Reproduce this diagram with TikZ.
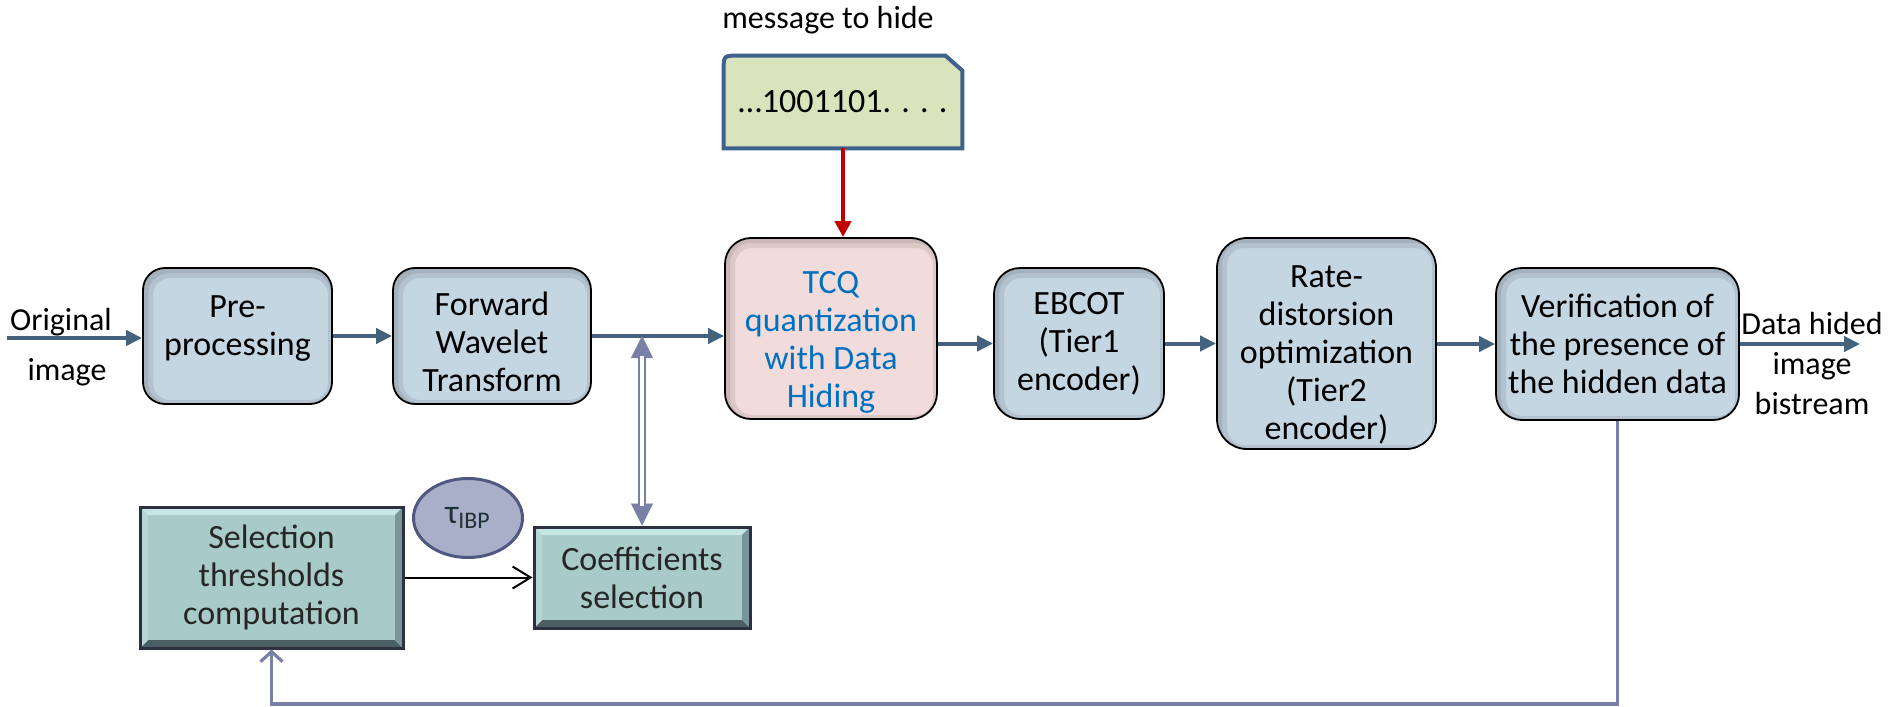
\documentclass[tikz,border=0pt]{standalone}
\usepackage{fontspec}
\setmainfont{Carlito}
\usetikzlibrary{arrows.meta,shapes.geometric,backgrounds}

\definecolor{stagefill}{RGB}{197,214,227}
\definecolor{hidefill}{RGB}{242,220,219}
\definecolor{hidetext}{RGB}{0,112,192}
\definecolor{flowcol}{RGB}{68,97,126}
\definecolor{injectcol}{RGB}{192,0,0}
\definecolor{msgfill}{RGB}{216,228,188}
\definecolor{msgdraw}{RGB}{63,97,142}
\definecolor{selfill}{RGB}{168,203,201}
\definecolor{seldraw}{RGB}{44,48,64}
\definecolor{seltext}{RGB}{38,38,38}
\definecolor{bevlight}{RGB}{198,230,228}
\definecolor{bevside}{RGB}{182,214,212}
\definecolor{bevdark}{RGB}{74,94,100}
\definecolor{bevright}{RGB}{120,150,152}
\definecolor{taufill}{RGB}{169,174,201}
\definecolor{taudraw}{RGB}{79,88,128}
\definecolor{tapcol}{RGB}{120,128,166}

\begin{document}
\begin{tikzpicture}[
  x=0.5pt, y=-0.5pt,
  font=\fontsize{17}{19}\selectfont,
  stage/.style={rectangle, rounded corners=11pt, draw=black, line width=0.9pt, fill=stagefill, align=center, inner sep=1pt,
    path picture={
      \draw[black, opacity=0.09, line width=7pt, rounded corners=12pt] ([shift={(1.5pt,-1.5pt)}]path picture bounding box.south west) rectangle ([shift={(1.5pt,-1.5pt)}]path picture bounding box.north east);
      \draw[black, opacity=0.08, line width=3pt, rounded corners=12pt] ([shift={(1pt,-1pt)}]path picture bounding box.south west) rectangle ([shift={(1pt,-1pt)}]path picture bounding box.north east);
    }},
  hide/.style={stage, fill=hidefill, text=hidetext},
  boxtxt/.style={align=center, inner sep=0pt},
  selbox/.style={rectangle, draw=seldraw, line width=1.5pt, fill=selfill, text=seltext, align=center,
    path picture={
      \fill[bevlight] (path picture bounding box.north west) -- (path picture bounding box.north east)
        -- ([shift={(-4pt,-4pt)}]path picture bounding box.north east) -- ([shift={(4pt,-4pt)}]path picture bounding box.north west) -- cycle;
      \fill[bevdark] (path picture bounding box.south west) -- (path picture bounding box.south east)
        -- ([shift={(-4pt,4pt)}]path picture bounding box.south east) -- ([shift={(4pt,4pt)}]path picture bounding box.south west) -- cycle;
      \fill[bevside] (path picture bounding box.north west) -- ([shift={(4pt,-4pt)}]path picture bounding box.north west)
        -- ([shift={(4pt,4pt)}]path picture bounding box.south west) -- (path picture bounding box.south west) -- cycle;
      \fill[bevright] (path picture bounding box.north east) -- ([shift={(-4pt,-4pt)}]path picture bounding box.north east)
        -- ([shift={(-4pt,4pt)}]path picture bounding box.south east) -- (path picture bounding box.south east) -- cycle;
    }},
  msgshape/.style={draw=msgdraw, line width=2pt, fill=msgfill},
  flow/.style={-{Triangle[length=8pt,width=7.5pt]}, line width=2pt, draw=flowcol},
  inject/.style={-{Triangle[length=8pt,width=8pt]}, line width=2.2pt, draw=injectcol},
  taptip/.style={{Triangle[length=11pt,width=11pt]}-{Triangle[length=11pt,width=11pt]}, draw=tapcol, fill=tapcol, line width=0.1pt},
  tap/.style={draw=tapcol, double=white, double distance=2.4pt, line width=0.6pt, shorten <=10pt, shorten >=10pt},
  thr/.style={-{Straight Barb[length=9pt,width=11pt]}, line width=1pt},
  fback/.style={-{Straight Barb[length=5pt,width=11pt]}, line width=1.6pt, draw=tapcol},
  lbl/.style={align=center, font=\fontsize{16}{20}\selectfont}
]
\useasboundingbox (0,0) rectangle (1893,706);

% Main chain
\node[stage, minimum width=94.5pt, minimum height=68pt] (pre) at (237.5,336) {};
\node[boxtxt] (pretxt) at ([yshift=3.5pt]pre) {Pre-\\processing};
\node[stage, minimum width=99pt, minimum height=68pt] (fwd) at (492,336) {};
\node[boxtxt] (fwdtxt) at ([yshift=-3pt]fwd) {Forward\\Wavelet\\Transform};
\node[hide, minimum width=106pt, minimum height=90.5pt, rounded corners=13pt] (tcq) at (831,328.5) {};
\node[boxtxt, text=hidetext] (tcqtxt) at ([yshift=-7pt]tcq) {TCQ\\quantization\\with Data\\Hiding};
\node[stage, minimum width=85pt, minimum height=75.5pt, rounded corners=13pt] (ebcot) at (1079,343.5) {EBCOT\\(Tier1\\encoder)};
\node[stage, minimum width=109.5pt, minimum height=105.5pt, rounded corners=15pt] (rate) at (1326.5,343.5) {};
\node[boxtxt] (ratetxt) at ([yshift=-5.5pt]rate) {Rate-\\distorsion\\optimization\\(Tier2\\encoder)};
\node[stage, minimum width=121.5pt, minimum height=76pt, rounded corners=13pt] (verif) at (1617.5,344) {Verification of\\the presence of\\the hidden data};

% Message
\node[lbl] (msgtitle) at (828,20) {message to hide};
\node[minimum width=119pt, minimum height=46pt] (msg) at (843,102) {…1001101. . . .};
\begin{scope}[on background layer]
\draw[msgshape] (msg.south west) -- ([yshift=-7.5pt]msg.north west)
  .. controls (msg.north west) .. ([xshift=7.5pt]msg.north west)
  -- ([xshift=-8.5pt]msg.north east) -- ([yshift=-7.5pt]msg.north east)
  -- (msg.south east) -- cycle;
\end{scope}

% Selection part
\node[selbox, minimum width=131.5pt, minimum height=70.5pt] (sel) at (271.5,577.5) {Selection\\thresholds\\computation};
\node[selbox, minimum width=108pt, minimum height=50.5pt] (coeff) at (642,577.5) {Coefficients\\selection};
\node[ellipse, draw=taudraw, line width=1.5pt, fill=taufill, minimum width=54.5pt, minimum height=39.5pt, inner sep=0pt, text={rgb,255:red,30;green,50;blue,52}] (tau) at (468,518) {τ\textsubscript{IBP}};

% Input and output
\coordinate (in) at (7,338);
\coordinate (out) at (1860,344);
\node[lbl] (origtxt) at (61,322) {Original};
\node[lbl] (origimg) at (67,372) {image};
\node[lbl] (outtxt) at (1812,364) {Data hided\\image\\bistream};

% Arrows
\draw[flow] (in) -- (in -| pre.west);
\draw[flow] (pre) -- (fwd);
\draw[flow] (fwd) -- (fwd -| tcq.west);
\draw[flow] (tcq.east |- ebcot) -- (ebcot);
\draw[flow] (ebcot) -- (rate);
\draw[flow] (rate.east |- verif) -- (verif);
\draw[flow] (verif) -- (out);
\draw[inject] (msg.south) -- (msg.south |- tcq.north);
\draw[taptip] (coeff.north) -- (fwd -| coeff);
\draw[tap] (coeff.north) -- (fwd -| coeff);
\draw[thr] (sel) -- (coeff);
\draw[fback] (verif.south) -- (verif.south |- 0,704) -| (sel.south);

\end{tikzpicture}
\end{document}
